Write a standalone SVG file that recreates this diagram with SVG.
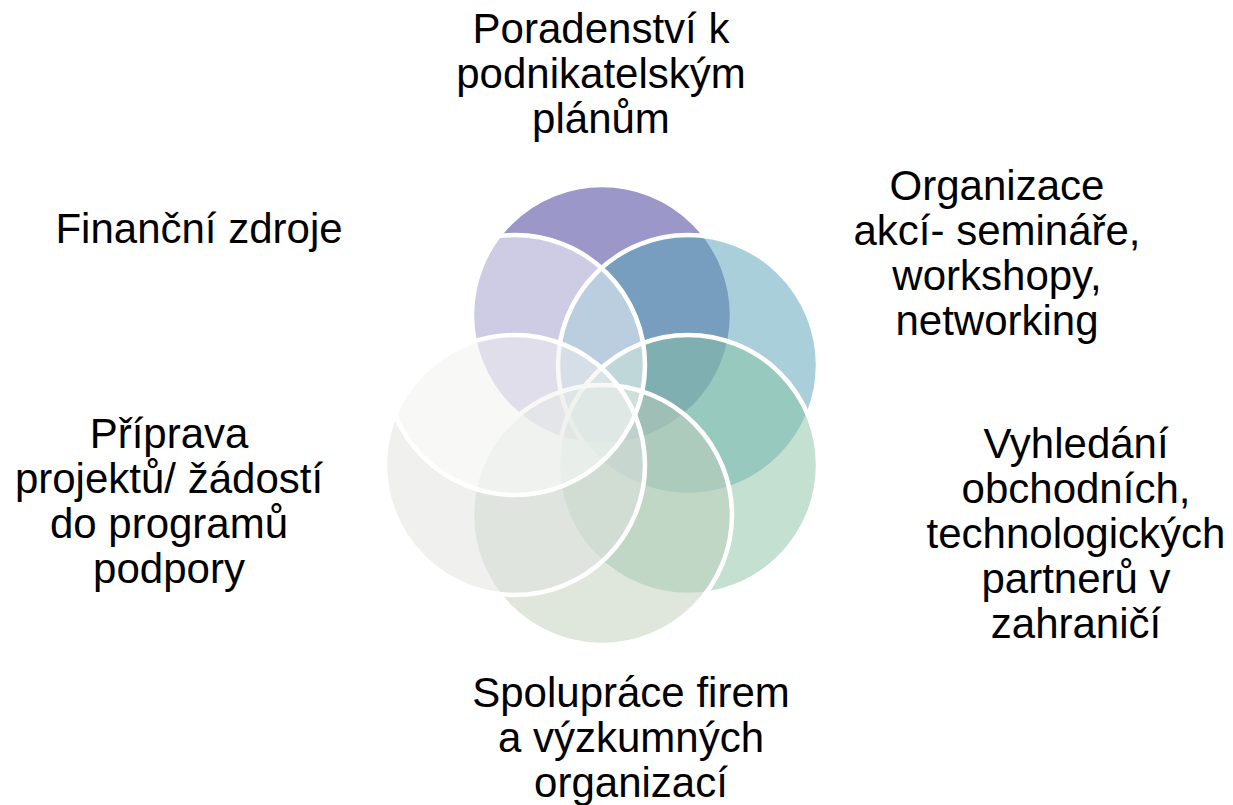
<svg xmlns="http://www.w3.org/2000/svg" width="1233" height="805" viewBox="0 0 1233 805">
<style>
.c{stroke:#ffffff;stroke-width:4.5;fill-opacity:0.5}
.t{font-family:"Liberation Sans",Arial,sans-serif;font-size:42px;fill:#000000;text-anchor:middle}
</style>
<rect width="1233" height="805" fill="#ffffff"/>
<g id="circles">
<circle id="c1" class="c" cx="602" cy="315" r="130" fill="#373193"/>
<circle id="c2" class="c" cx="688" cy="365" r="130" fill="#53a1b5"/>
<circle id="c3" class="c" cx="688" cy="465" r="130" fill="#87c1a1"/>
<circle id="c4" class="c" cx="602" cy="515" r="130" fill="#bfcdb9"/>
<circle id="c5" class="c" cx="515" cy="465" r="130" fill="#e1e1df"/>
<circle id="c6" class="c" cx="515" cy="365" r="130" fill="#ffffff"/>
</g>
<g id="label-top">
<text class="t" x="601" y="43">Poradenství k</text>
<text class="t" x="601" y="88">podnikatelským</text>
<text class="t" x="601" y="133">plánům</text>
</g>
<g id="label-topright">
<text class="t" x="997" y="200">Organizace</text>
<text class="t" x="997" y="245">akcí- semináře,</text>
<text class="t" x="997" y="290">workshopy,</text>
<text class="t" x="997" y="335">networking</text>
</g>
<g id="label-right">
<text class="t" x="1076" y="458">Vyhledání</text>
<text class="t" x="1076" y="503">obchodních,</text>
<text class="t" x="1076" y="548">technologických</text>
<text class="t" x="1076" y="593">partnerů v</text>
<text class="t" x="1076" y="638">zahraničí</text>
</g>
<g id="label-bottom">
<text class="t" x="631" y="707">Spolupráce firem</text>
<text class="t" x="631" y="752">a výzkumných</text>
<text class="t" x="631" y="797">organizací</text>
</g>
<g id="label-left">
<text class="t" x="169" y="448">Příprava</text>
<text class="t" x="169" y="493">projektů/ žádostí</text>
<text class="t" x="169" y="538">do programů</text>
<text class="t" x="169" y="583">podpory</text>
</g>
<g id="label-topleft">
<text class="t" x="199" y="243">Finanční zdroje</text>
</g>
</svg>
